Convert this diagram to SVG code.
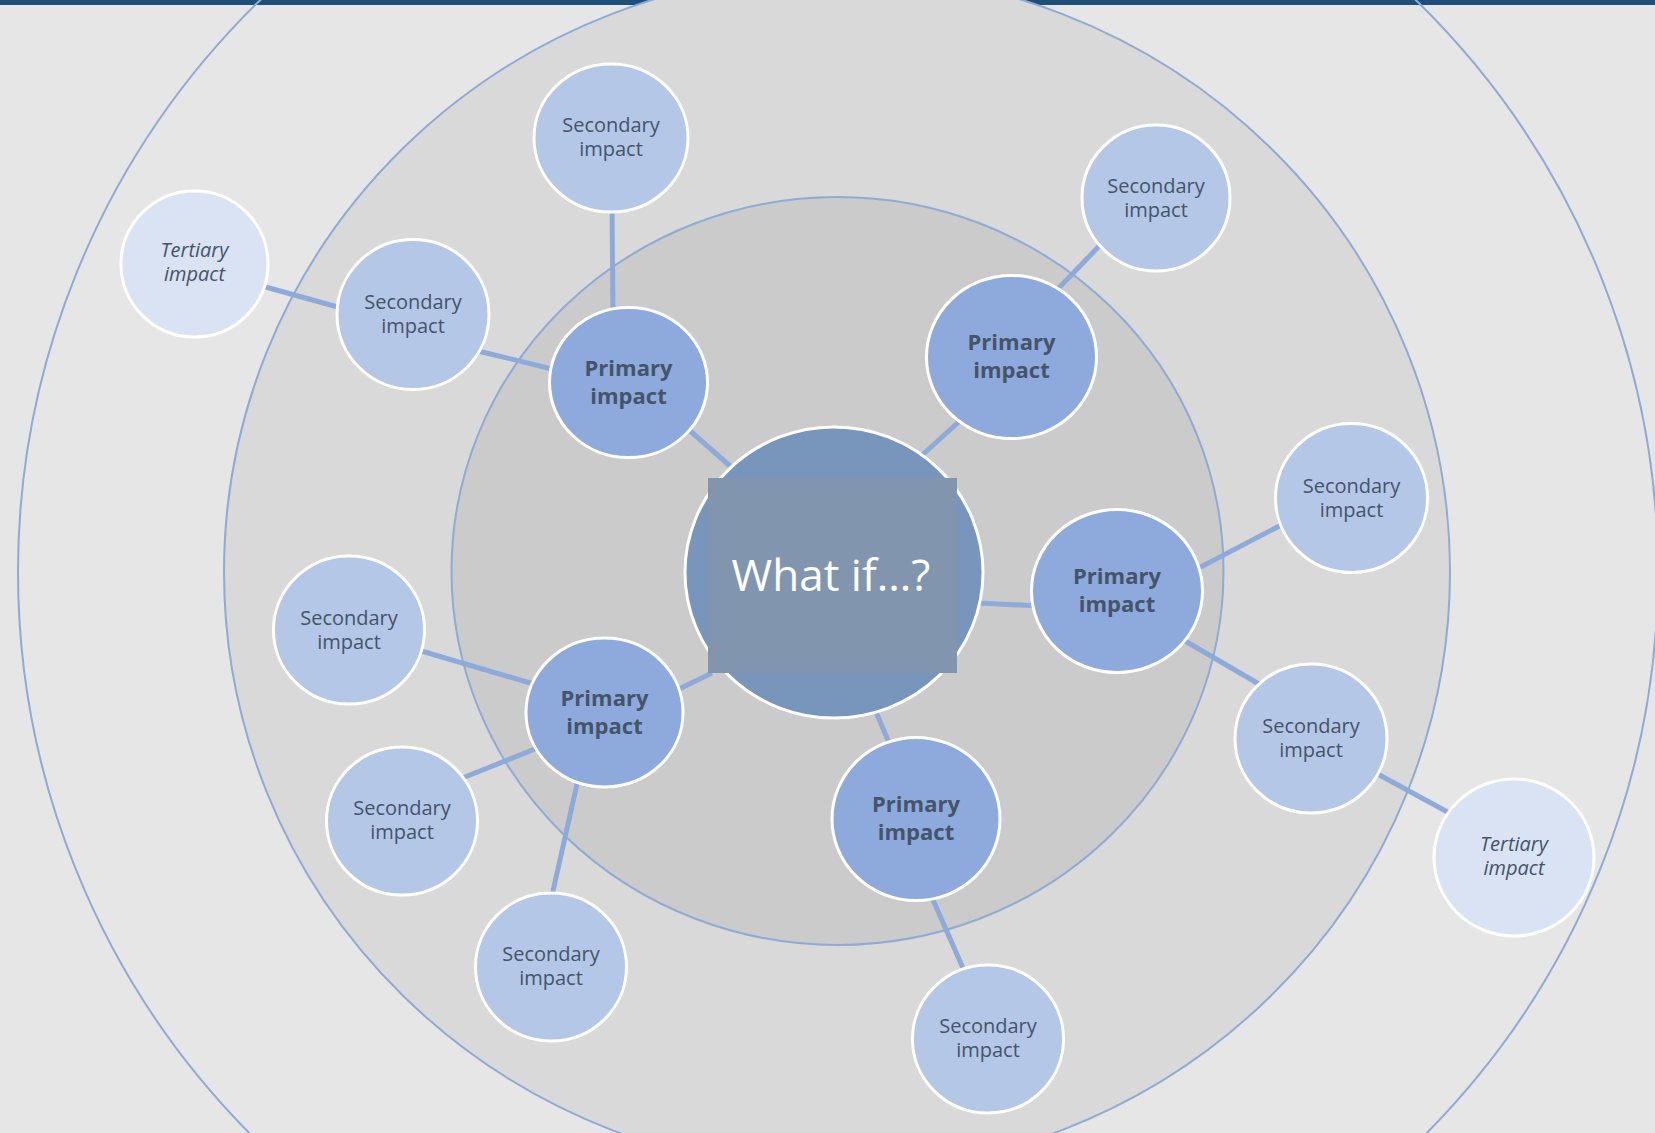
<svg xmlns="http://www.w3.org/2000/svg" width="1655" height="1133" viewBox="0 0 1655 1133">
<style>
.ring{stroke:#8eaad6;stroke-width:2}
.conn line{stroke:#8eaadb;stroke-width:5;stroke-linecap:butt}
.node ellipse{stroke:#ffffff;stroke-width:3}
.pri ellipse{fill:#8eaadc}
.sec ellipse{fill:#b4c7e7}
.ter ellipse{fill:#dae3f3}
.lbl{font-family:"Open Sans","Liberation Sans",sans-serif;fill:#44546a;text-anchor:middle}
.pri .lbl{font-weight:bold;font-size:22px}
.sec .lbl{font-size:20px}
.ter .lbl{font-size:20px;font-style:italic}
</style>
<rect x="0" y="0" width="1655" height="1133" fill="#e7e6e6"/>
<rect x="0" y="0" width="1655" height="5" fill="#1f4e79"/>
<g id="rings">
<ellipse class="ring" cx="838" cy="572" rx="820" ry="806" fill="none"/>
<ellipse class="ring" cx="837" cy="572" rx="613" ry="600" fill="#d9d9d9"/>
<ellipse class="ring" cx="837.5" cy="571" rx="386" ry="374" fill="#cbcbcb"/>
</g>
<g id="connectors" class="conn">
<line x1="262" y1="286" x2="345" y2="309"/>
<line x1="478" y1="351" x2="552" y2="369"/>
<line x1="612" y1="205" x2="613" y2="315"/>
<line x1="688" y1="429" x2="730" y2="466"/>
<line x1="1055" y1="292" x2="1104" y2="241"/>
<line x1="920" y1="457" x2="962" y2="419"/>
<line x1="978" y1="603" x2="1040" y2="606"/>
<line x1="1195" y1="570" x2="1285" y2="523"/>
<line x1="1180" y1="638" x2="1264" y2="687"/>
<line x1="1374" y1="772" x2="1453" y2="815"/>
<line x1="418" y1="650" x2="537" y2="685"/>
<line x1="460" y1="779" x2="540" y2="747"/>
<line x1="579" y1="775" x2="551" y2="900"/>
<line x1="677" y1="690" x2="712" y2="673"/>
<line x1="876" y1="712" x2="890" y2="745"/>
<line x1="930" y1="893" x2="966" y2="975"/>
</g>
<g id="node-t1" class="node ter"><ellipse cx="194.5" cy="264" rx="73.5" ry="73"/><text class="lbl" x="194.5" y="257">Tertiary</text><text class="lbl" x="194.5" y="281">impact</text></g>
<g id="node-t2" class="node ter"><ellipse cx="1514" cy="857.5" rx="80" ry="78.5"/><text class="lbl" x="1514" y="851">Tertiary</text><text class="lbl" x="1514" y="875">impact</text></g>
<g id="node-s1" class="node sec"><ellipse cx="611" cy="138" rx="77" ry="74"/><text class="lbl" x="611" y="132">Secondary</text><text class="lbl" x="611" y="156">impact</text></g>
<g id="node-s2" class="node sec"><ellipse cx="1156" cy="198" rx="74" ry="73"/><text class="lbl" x="1156" y="193">Secondary</text><text class="lbl" x="1156" y="217">impact</text></g>
<g id="node-s3" class="node sec"><ellipse cx="413" cy="314.5" rx="76" ry="75"/><text class="lbl" x="413" y="309">Secondary</text><text class="lbl" x="413" y="333">impact</text></g>
<g id="node-s4" class="node sec"><ellipse cx="1351.5" cy="498" rx="76" ry="74.5"/><text class="lbl" x="1351.5" y="493">Secondary</text><text class="lbl" x="1351.5" y="517">impact</text></g>
<g id="node-s5" class="node sec"><ellipse cx="349" cy="630" rx="75.5" ry="74"/><text class="lbl" x="349" y="625">Secondary</text><text class="lbl" x="349" y="649">impact</text></g>
<g id="node-s6" class="node sec"><ellipse cx="1311" cy="738.5" rx="76" ry="74.5"/><text class="lbl" x="1311" y="733">Secondary</text><text class="lbl" x="1311" y="757">impact</text></g>
<g id="node-s7" class="node sec"><ellipse cx="402" cy="821" rx="75.5" ry="74"/><text class="lbl" x="402" y="815">Secondary</text><text class="lbl" x="402" y="839">impact</text></g>
<g id="node-s8" class="node sec"><ellipse cx="551" cy="967" rx="75.5" ry="74"/><text class="lbl" x="551" y="961">Secondary</text><text class="lbl" x="551" y="985">impact</text></g>
<g id="node-s9" class="node sec"><ellipse cx="988" cy="1039" rx="75.5" ry="74"/><text class="lbl" x="988" y="1033">Secondary</text><text class="lbl" x="988" y="1057">impact</text></g>
<g id="node-p1" class="node pri"><ellipse cx="628.5" cy="382.5" rx="79" ry="75"/><text class="lbl" x="628.5" y="376">Primary</text><text class="lbl" x="628.5" y="404">impact</text></g>
<g id="node-p2" class="node pri"><ellipse cx="1011.5" cy="357" rx="85" ry="81.5"/><text class="lbl" x="1011.5" y="350">Primary</text><text class="lbl" x="1011.5" y="378">impact</text></g>
<g id="node-p3" class="node pri"><ellipse cx="1117" cy="591" rx="85.5" ry="81.5"/><text class="lbl" x="1117" y="584">Primary</text><text class="lbl" x="1117" y="612">impact</text></g>
<g id="node-p4" class="node pri"><ellipse cx="604.5" cy="712.5" rx="78.5" ry="74.5"/><text class="lbl" x="604.5" y="706">Primary</text><text class="lbl" x="604.5" y="734">impact</text></g>
<g id="node-p5" class="node pri"><ellipse cx="916" cy="819" rx="84" ry="81.5"/><text class="lbl" x="916" y="812">Primary</text><text class="lbl" x="916" y="840">impact</text></g>
<g id="node-center">
<ellipse cx="834" cy="572.5" rx="149" ry="145.5" fill="#7896bc" stroke="#ffffff" stroke-width="3"/>
<rect x="708" y="478" width="249" height="195" fill="#8196ae"/>
<text x="831" y="591" font-family="'Open Sans','Liberation Sans',sans-serif" font-size="44" fill="#ffffff" text-anchor="middle">What if...?</text>
</g>
</svg>
